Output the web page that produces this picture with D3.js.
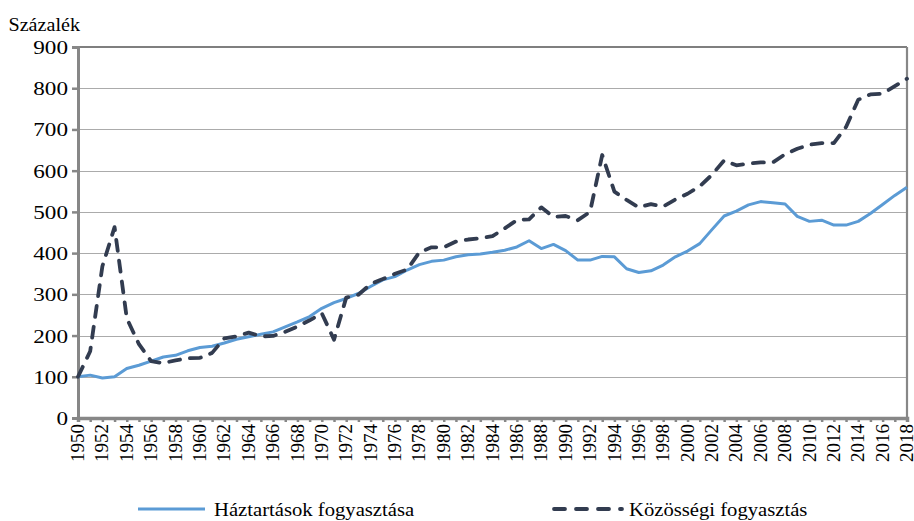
<!DOCTYPE html>
<html>
<head>
<meta charset="utf-8">
<script src="https://cdn.jsdelivr.net/npm/d3@7"></script>
<style>
	body { margin: 0; background: #fff; }
	svg text { font-family: "Liberation Serif", "DejaVu Serif", serif !important; fill: #000; }
</style>
</head>
<body>
<svg id="chart" width="914" height="521"></svg>
<script>

var years = [1950, 1951, 1952, 1953, 1954, 1955, 1956, 1957, 1958, 1959,
	1960, 1961, 1962, 1963, 1964, 1965, 1966, 1967, 1968, 1969,
	1970, 1971, 1972, 1973, 1974, 1975, 1976, 1977, 1978, 1979,
	1980, 1981, 1982, 1983, 1984, 1985, 1986, 1987, 1988, 1989,
	1990, 1991, 1992, 1993, 1994, 1995, 1996, 1997, 1998, 1999,
	2000, 2001, 2002, 2003, 2004, 2005, 2006, 2007, 2008, 2009,
	2010, 2011, 2012, 2013, 2014, 2015, 2016, 2017, 2018];

// Háztartások fogyasztása (1950 = 100)
var haztartas = [100, 104, 97, 100, 120, 128, 138, 148, 152, 163,
	171, 174, 182, 191, 197, 203, 209, 221, 233, 246,
	266, 280, 290, 302, 319, 335, 343, 359, 372, 380,
	383, 391, 396, 398, 402, 407, 415, 430, 411, 421,
	406, 383, 383, 392, 391, 362, 353, 357, 371, 391,
	405, 423, 457, 490, 502, 517, 525, 522, 519, 489,
	477, 480, 468, 468, 477, 496, 518, 540, 560];

// Közösségi fogyasztás (1950 = 100)
var kozossegi = [100, 162, 368, 463, 242, 179, 138, 133, 140, 145,
	146, 158, 193, 198, 207, 198, 199, 209, 222, 237,
	254, 190, 292, 299, 325, 337, 350, 360, 402, 414,
	414, 428, 433, 436, 441, 460, 480, 482, 511, 488,
	490, 480, 500, 638, 549, 529, 511, 519, 513, 530,
	544, 562, 590, 625, 613, 617, 620, 620, 640, 653,
	663, 667, 667, 706, 772, 785, 787, 805, 823];

var yTicks = [0, 100, 200, 300, 400, 500, 600, 700, 800, 900];
var xLabels = [1950, 1952, 1954, 1956, 1958, 1960, 1962, 1964, 1966, 1968,
	1970, 1972, 1974, 1976, 1978, 1980, 1982, 1984, 1986, 1988,
	1990, 1992, 1994, 1996, 1998, 2000, 2002, 2004, 2006, 2008,
	2010, 2012, 2014, 2016, 2018];

var seriesNames = ['Háztartások fogyasztása', 'Közösségi fogyasztás'];


var CHART = CHART || {};

CHART.draw = {
	init: function () {

		var svg = d3.select('#chart');

		var left = 78, right = 907, top = 47, bottom = 418;
		var axisColor = '#878787';
		var blue = '#5b9bd5';
		var navy = '#323c50';

		var x = d3.scaleLinear().domain([1950, 2018]).range([left, right]);
		var y = d3.scaleLinear().domain([0, 900]).range([bottom, top]);

		//gridlines
		svg.append('g')
			.selectAll('line')
			.data(yTicks.filter(function(d){ return d > 0 && d < 900; }))
			.enter().append('line')
			.attr('x1', left).attr('x2', right)
			.attr('y1', function(d){ return Math.round(y(d)) + 0.5; })
			.attr('y2', function(d){ return Math.round(y(d)) + 0.5; })
			.style('stroke', '#ababab')
			.style('stroke-width', 1);

		//frame: black top, gray right
		svg.append('line')
			.attr('x1', left).attr('x2', right)
			.attr('y1', y(900)).attr('y2', y(900))
			.style('stroke', '#000').style('stroke-width', 1.2);

		svg.append('line')
			.attr('x1', right).attr('x2', right)
			.attr('y1', y(900)).attr('y2', bottom)
			.style('stroke', axisColor).style('stroke-width', 2.2);

		//y axis
		var yAxis = d3.axisLeft(y)
			.tickValues(yTicks)
			.tickSize(6)
			.tickPadding(4)
			.tickFormat(d3.format('d'));

		var gy = svg.append('g')
			.attr('transform', 'translate(' + left + ',0)')
			.call(yAxis);

		gy.select('.domain').style('stroke', axisColor).style('stroke-width', 3);
		gy.selectAll('.tick line').style('stroke', axisColor).style('stroke-width', 2.5);
		gy.selectAll('.tick text')
			.attr('x', 0)
			.attr('dy', '0.34em')
			.style('font-size', '19px')
			.attr('text-anchor', 'end')
			.attr('transform', 'translate(-10,0) scale(1.22,1)');

		//x axis, one tick per year
		var xAxis = d3.axisBottom(x)
			.tickValues(years)
			.tickSize(4)
			.tickFormat('');

		var gx = svg.append('g')
			.attr('transform', 'translate(0,' + bottom + ')')
			.call(xAxis);

		gx.select('.domain').style('stroke', axisColor).style('stroke-width', 3.5);
		gx.selectAll('.tick line').style('stroke', axisColor).style('stroke-width', 2.5);

		svg.append('g')
			.selectAll('text')
			.data(xLabels)
			.enter().append('text')
			.attr('transform', function(d){ return 'translate(' + x(d) + ',' + (bottom + 6) + ') rotate(-90)'; })
			.attr('text-anchor', 'end')
			.attr('dy', '0.32em')
			.style('font-size', '19px')
			.text(function(d){ return d; });

		//title
		svg.append('text')
			.attr('x', 8)
			.attr('y', 31)
			.style('font-size', '19px')
			.attr('transform', 'scale(1.06,1)')
			.text('Százalék');

		//lines
		var line = function(vals){
			return d3.line()
				.x(function(d, i){ return x(years[i]); })
				.y(function(d){ return y(d); })(vals);
		};

		svg.append('path')
			.attr('d', line(haztartas))
			.style('fill', 'none')
			.style('stroke', blue)
			.style('stroke-width', 3)
			.style('stroke-linejoin', 'round');

		svg.append('path')
			.attr('d', line(kozossegi))
			.style('fill', 'none')
			.style('stroke', navy)
			.style('stroke-width', 3.8)
			.style('stroke-dasharray', '11,10')
			.style('stroke-linecap', 'round')
			.style('stroke-linejoin', 'round');

		//legend
		var legY = 509;

		svg.append('line')
			.attr('x1', 138).attr('x2', 205)
			.attr('y1', legY).attr('y2', legY)
			.style('stroke', blue).style('stroke-width', 3.2);

		svg.append('text')
			.attr('transform', 'translate(214,' + legY + ') scale(1.06,1)')
			.attr('dy', '0.34em')
			.style('font-size', '19.5px')
			.text(seriesNames[0]);

		svg.append('line')
			.attr('x1', 554).attr('x2', 622)
			.attr('y1', legY).attr('y2', legY)
			.style('stroke', navy).style('stroke-width', 3.8)
			.style('stroke-dasharray', '11,11')
			.style('stroke-linecap', 'round');

		svg.append('text')
			.attr('transform', 'translate(629,' + legY + ') scale(1.06,1)')
			.attr('dy', '0.34em')
			.style('font-size', '19.5px')
			.text(seriesNames[1]);

	}
};

CHART.draw.init();

</script>
</body>
</html>
